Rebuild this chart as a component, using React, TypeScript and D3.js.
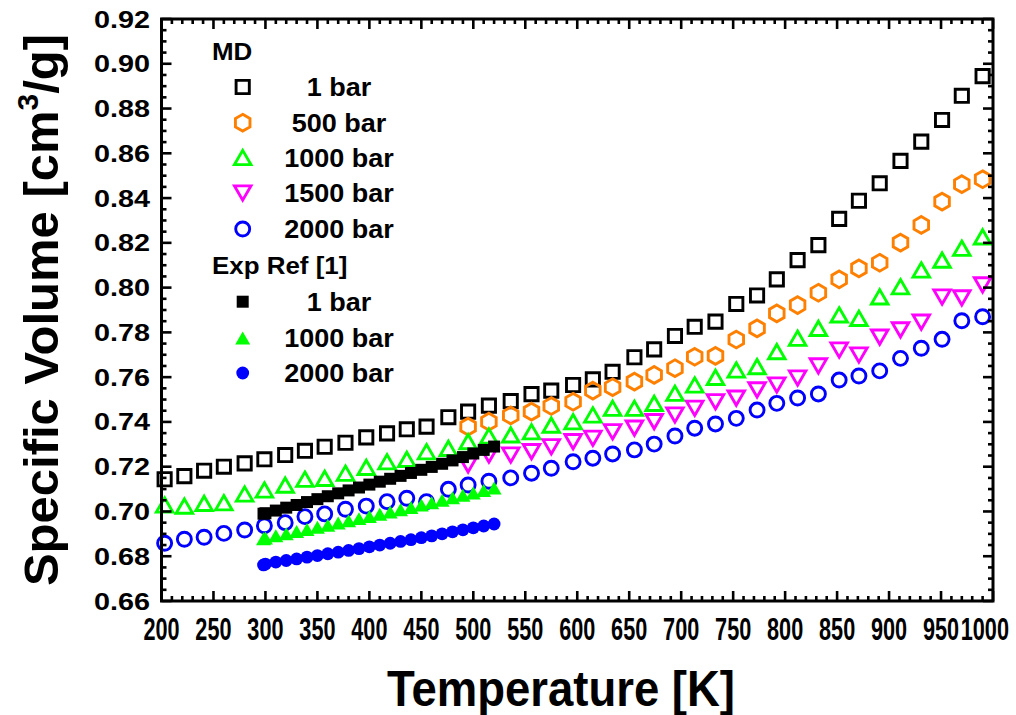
import * as d3 from "d3";

// MD simulation temperatures (K), shared by all MD series
const mdTemps = [203, 222, 241, 260, 280, 299, 319, 338, 357, 377, 397, 417, 436, 455, 476, 495, 515, 536, 556, 575, 596, 615, 634, 655, 674, 694, 713, 733, 753, 773, 792, 812, 832, 852, 871, 891, 911, 931, 951, 970, 990];
const mdTempsHigh = mdTemps.slice(15); // 500 and 1500 bar start at ~495 K

const md1Bar = [0.7144, 0.7158, 0.7182, 0.72, 0.7215, 0.7233, 0.7252, 0.7271, 0.7289, 0.7307, 0.7331, 0.7349, 0.7367, 0.7379, 0.7421, 0.7446, 0.7473, 0.7493, 0.7524, 0.754, 0.7565, 0.759, 0.7624, 0.7689, 0.7724, 0.7784, 0.7825, 0.7848, 0.7927, 0.7965, 0.8037, 0.8123, 0.819, 0.8307, 0.8388, 0.8466, 0.8566, 0.8652, 0.8749, 0.8857, 0.8945];
const md500Bar = [0.7379, 0.7401, 0.7429, 0.7446, 0.7471, 0.749, 0.754, 0.7555, 0.758, 0.761, 0.764, 0.7691, 0.7695, 0.7768, 0.7818, 0.7885, 0.7922, 0.7977, 0.8037, 0.8086, 0.8111, 0.8201, 0.828, 0.8384, 0.8462, 0.8484];
const md1000Bar = [0.7029, 0.7024, 0.7036, 0.7039, 0.7078, 0.7096, 0.7118, 0.7144, 0.7148, 0.7171, 0.7197, 0.7222, 0.7233, 0.7267, 0.7282, 0.7312, 0.7337, 0.7342, 0.7356, 0.7386, 0.7401, 0.7431, 0.7461, 0.7461, 0.7483, 0.7528, 0.7565, 0.7599, 0.7632, 0.7647, 0.7714, 0.7774, 0.7818, 0.7878, 0.7863, 0.7959, 0.8004, 0.8079, 0.8123, 0.8176, 0.8227];
const md1500Bar = [0.7208, 0.7252, 0.7252, 0.7267, 0.7289, 0.7312, 0.7327, 0.7356, 0.7372, 0.7401, 0.7431, 0.7461, 0.749, 0.7506, 0.7543, 0.7565, 0.7596, 0.765, 0.7721, 0.7699, 0.7779, 0.7811, 0.7846, 0.7958, 0.7954, 0.8012];
const md2000Bar = [0.6858, 0.6876, 0.6885, 0.6902, 0.6917, 0.6936, 0.695, 0.6977, 0.6989, 0.701, 0.7024, 0.7044, 0.7059, 0.7044, 0.7099, 0.7118, 0.7135, 0.715, 0.7171, 0.7193, 0.7222, 0.7238, 0.7257, 0.7275, 0.7301, 0.7337, 0.7372, 0.7391, 0.7416, 0.7453, 0.7483, 0.7507, 0.7525, 0.7587, 0.7605, 0.7628, 0.7684, 0.7729, 0.7769, 0.7852, 0.787];

// experimental reference [1]
const expTemps = [298.15, 300, 310, 320, 330, 340, 350, 360, 370, 380, 390, 400, 410, 420, 430, 440, 450, 460, 470, 480, 490, 500, 510, 520];
const exp1Bar = [0.699, 0.6992, 0.7004, 0.7017, 0.7029, 0.7042, 0.7055, 0.7068, 0.7081, 0.7094, 0.7107, 0.712, 0.7133, 0.7146, 0.7159, 0.7172, 0.7186, 0.7199, 0.7213, 0.7228, 0.7243, 0.7259, 0.7275, 0.729];
const exp1000Bar = [0.6878, 0.6881, 0.6891, 0.69, 0.691, 0.6919, 0.6929, 0.6938, 0.6948, 0.6958, 0.6968, 0.6978, 0.6988, 0.6998, 0.7008, 0.7018, 0.7029, 0.7039, 0.705, 0.7061, 0.7072, 0.7083, 0.7094, 0.7105];
const exp2000Bar = [0.6761, 0.6765, 0.6774, 0.6781, 0.6788, 0.6796, 0.6803, 0.6811, 0.6818, 0.6826, 0.6834, 0.6842, 0.685, 0.6858, 0.6866, 0.6874, 0.6883, 0.6891, 0.69, 0.6909, 0.6918, 0.6927, 0.6935, 0.6944];

const xTickLabels = [200, 250, 300, 350, 400, 450, 500, 550, 600, 650, 700, 750, 800, 850, 900, 950, 1000];
const yTickLabels = ["0.66", "0.68", "0.70", "0.72", "0.74", "0.76", "0.78", "0.80", "0.82", "0.84", "0.86", "0.88", "0.90", "0.92"];

type Shape = "square" | "hexagon" | "triUp" | "triDown" | "circle";

interface Series {
  label: string;
  temps: number[];
  values: number[];
  shape: Shape;
  color: string;
  filled: boolean;
}

const mdSeries: Series[] = [
  { label: "1 bar", temps: mdTemps, values: md1Bar, shape: "square", color: "#000000", filled: false },
  { label: "500 bar", temps: mdTempsHigh, values: md500Bar, shape: "hexagon", color: "#ff8000", filled: false },
  { label: "1000 bar", temps: mdTemps, values: md1000Bar, shape: "triUp", color: "#00ff00", filled: false },
  { label: "1500 bar", temps: mdTempsHigh, values: md1500Bar, shape: "triDown", color: "#ff00ff", filled: false },
  { label: "2000 bar", temps: mdTemps, values: md2000Bar, shape: "circle", color: "#0000ff", filled: false },
];

const expSeries: Series[] = [
  { label: "1 bar", temps: expTemps, values: exp1Bar, shape: "square", color: "#000000", filled: true },
  { label: "1000 bar", temps: expTemps, values: exp1000Bar, shape: "triUp", color: "#00ff00", filled: true },
  { label: "2000 bar", temps: expTemps, values: exp2000Bar, shape: "circle", color: "#0000ff", filled: true },
];

const W = 1016;
const H = 715;
const plot = { left: 161.5, top: 19, right: 993, bottom: 601 };
const font = "'Liberation Sans', Arial, sans-serif";

const xScale = d3.scaleLinear().domain([200, 1000]).range([plot.left, plot.right]);
const yScale = d3.scaleLinear().domain([0.66, 0.92]).range([plot.bottom, plot.top]);

function shapePath(shape: Shape, filled: boolean): string {
  const s3 = Math.sqrt(3);
  if (shape === "square") {
    const r = filled ? 6 : 6.6;
    return `M${-r},${-r}H${r}V${r}H${-r}Z`;
  }
  if (shape === "hexagon") {
    const r = 8.4;
    const pts = d3.range(6).map((k) => {
      const a = (Math.PI / 180) * (-90 + 60 * k);
      return [r * Math.cos(a), r * Math.sin(a)];
    });
    return "M" + pts.map((p) => p.join(",")).join("L") + "Z";
  }
  if (shape === "triUp" || shape === "triDown") {
    const side = filled ? 15 : 16.5;
    const h = (side * s3) / 2;
    const d = shape === "triUp" ? 1 : -1;
    return `M0,${(-d * h) / 2}L${side / 2},${(d * h) / 2}L${-side / 2},${(d * h) / 2}Z`;
  }
  const r = filled ? 6.4 : 7;
  return d3.arc()({ innerRadius: 0, outerRadius: r, startAngle: 0, endAngle: 2 * Math.PI }) as string;
}

function Marker({ s, x, y }: { s: Series; x: number; y: number }) {
  return (
    <path
      d={shapePath(s.shape, s.filled)}
      transform={`translate(${x},${y})`}
      fill={s.filled ? s.color : "none"}
      stroke={s.filled ? "none" : s.color}
      strokeWidth={2.9}
      strokeLinejoin="miter"
    />
  );
}

const App = () => {
  const xMinor = xScale.ticks(80);
  const yMinor = yScale.ticks(52);
  const majorLen = 10;
  const minorLen = 5;

  const legendX = 242.7;
  const legendTextX = 339;
  const mdRows = [87, 122.7, 157.5, 193, 229];
  const expRows = [301.7, 338, 373];

  return (
    <svg width={W} height={H} style={{ position: "absolute", left: 0, top: 0, background: "#fff" }} fontFamily={font} fontWeight="bold">
      <rect x={0} y={0} width={W} height={H} fill="#fff" />

      {/* data */}
      {[...mdSeries, ...expSeries].map((s, si) => (
        <g key={si}>
          {s.values.map((v, i) => (
            <Marker key={i} s={s} x={xScale(s.temps[i])} y={yScale(v)} />
          ))}
        </g>
      ))}

      {/* ticks */}
      <g stroke="#000" strokeWidth={2.6}>
        {xMinor.map((t) => {
          const major = t % 50 === 0;
          const len = major ? majorLen : minorLen;
          const x = xScale(t);
          return (
            <g key={`x${t}`}>
              <line x1={x} x2={x} y1={plot.bottom} y2={plot.bottom - len} />
              <line x1={x} x2={x} y1={plot.top} y2={plot.top + len} />
            </g>
          );
        })}
        {yMinor.map((t) => {
          const major = Math.abs(Math.round(t * 1000) % 20) === 0;
          const len = major ? majorLen : minorLen;
          const y = yScale(t);
          return (
            <g key={`y${t}`}>
              <line x1={plot.left} x2={plot.left + len} y1={y} y2={y} />
              <line x1={plot.right} x2={plot.right - len} y1={y} y2={y} />
            </g>
          );
        })}
      </g>
      <rect
        x={plot.left}
        y={plot.top}
        width={plot.right - plot.left}
        height={plot.bottom - plot.top}
        fill="none"
        stroke="#000"
        strokeWidth={3}
      />

      {/* tick labels */}
      {xTickLabels.map((t) => {
        const half = (String(t).length * 0.556 * 31 * 0.7) / 2;
        const x = Math.min(xScale(t), 1009 - half);
        return (
          <text key={t} transform={`translate(${x},640) scale(0.7,1)`} textAnchor="middle" fontSize={31}>
            {t}
          </text>
        );
      })}
      {yTickLabels.map((t) => (
        <text key={t} transform={`translate(150,${yScale(+t) + 8.5}) scale(1.2,1)`} textAnchor="end" fontSize={24}>
          {t}
        </text>
      ))}

      {/* axis titles */}
      <text transform={`translate(561,706) scale(0.91,1)`} textAnchor="middle" fontSize={50}>
        Temperature [K]
      </text>
      <text transform="translate(58,310) rotate(-90)" textAnchor="middle" fontSize={49}>
        Specific Volume [cm
        <tspan fontSize={30} dy={-20}>3</tspan>
        <tspan dy={20}>/g]</tspan>
      </text>

      {/* legend */}
      <text transform="translate(212,60) scale(1.08,1)" fontSize={24}>MD</text>
      {mdSeries.map((s, i) => (
        <g key={`lm${i}`}>
          <Marker s={s} x={legendX} y={mdRows[i]} />
          <text transform={`translate(${legendTextX},${mdRows[i] + 9}) scale(1.08,1)`} textAnchor="middle" fontSize={25}>
            {s.label}
          </text>
        </g>
      ))}
      <text transform="translate(212,273.5) scale(1.08,1)" fontSize={24}>Exp Ref [1]</text>
      {expSeries.map((s, i) => (
        <g key={`le${i}`}>
          <Marker s={s} x={legendX} y={expRows[i]} />
          <text transform={`translate(${legendTextX},${expRows[i] + 9}) scale(1.08,1)`} textAnchor="middle" fontSize={25}>
            {s.label}
          </text>
        </g>
      ))}
    </svg>
  );
};

export default App;
